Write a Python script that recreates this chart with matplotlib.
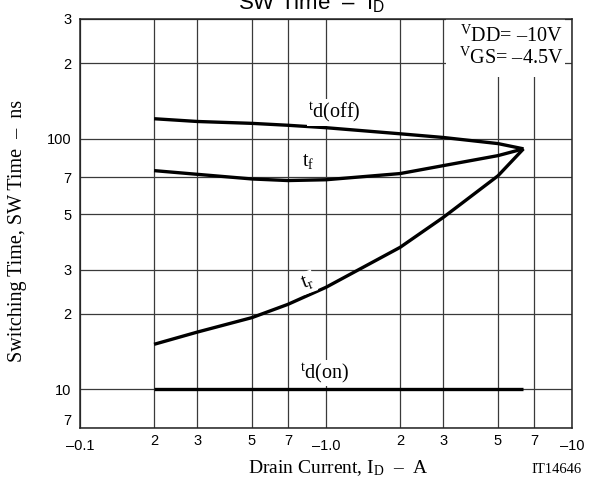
import numpy as np
import matplotlib.pyplot as plt
import matplotlib.transforms as mtransforms
from matplotlib.patches import Rectangle
from matplotlib.ticker import NullLocator

plt.rcParams['font.family'] = 'Liberation Serif'
plt.rcParams['mathtext.fontset'] = 'custom'
plt.rcParams['mathtext.rm'] = 'Liberation Serif'
plt.rcParams['mathtext.it'] = 'Liberation Serif:italic'
plt.rcParams['mathtext.sf'] = 'Liberation Sans'

# drain current |I_D| in A, switching times in ns
drain_current = [0.2, 0.3, 0.5, 0.7, 1.0, 2.0, 3.0, 5.0, 6.35]
td_off = [120, 117, 115, 113, 110.5, 104.5, 101, 95.5, 91]
t_f = [74.5, 72, 69, 68, 68.5, 72.5, 78, 85.5, 91]
t_r = [15.1, 16.9, 19.3, 21.8, 25.5, 36.8, 48.5, 71, 91]
td_on = [10, 10, 10, 10, 10, 10, 10, 10, 10]

x_ticks = [0.1, 0.2, 0.3, 0.5, 0.7, 1, 2, 3, 5, 7, 10]
x_ticklabels = ['\u20130.1', '2', '3', '5', '7', '\u20131.0', '2', '3', '5', '7', '\u201310']
y_ticks = [7, 10, 20, 30, 50, 70, 100, 200, 300]
y_ticklabels = ['7', '10', '2', '3', '5', '7', '100', '2', '3']

fig = plt.figure(figsize=(5.9, 4.79), dpi=100)
ax = fig.add_axes([80/590, 51/479, 492/590, 409/479])
ax.set_xscale('log')
ax.set_yscale('log')
ax.set_xlim(0.1, 10)
ax.set_ylim(7, 300)
ax.set_xticks(x_ticks)
ax.set_xticklabels(x_ticklabels, fontfamily='Liberation Sans', fontsize=10.5)
ax.set_yticks(y_ticks)
ax.set_yticklabels(y_ticklabels, fontfamily='Liberation Sans', fontsize=10.5)
ax.xaxis.set_minor_locator(NullLocator())
ax.yaxis.set_minor_locator(NullLocator())
ax.tick_params(axis='x', length=0, pad=4)
ax.tick_params(axis='y', length=0, pad=6)
ax.grid(True, color='#3a3a3a', lw=0.9)
for s in ax.spines.values():
    s.set_linewidth(1.1)
    s.set_color('#222222')

# the labels with a minus sign sit a little lower in the original
shift = mtransforms.ScaledTranslation(0, -4/72, fig.dpi_scale_trans)
for lab in ax.get_xticklabels():
    if lab.get_text().startswith('\u2013'):
        lab.set_transform(lab.get_transform() + shift)
ax.get_yticklabels()[0].set_va('bottom')

for curve in [td_off, t_f, t_r, td_on]:
    ax.plot(drain_current, curve, color='black', lw=2.4, solid_capstyle='butt')

box = dict(facecolor='white', edgecolor='none', pad=1)
ax.text(1.08, 127, r'$^{\mathrm{t}}$d(off)', ha='center', va='center', fontsize=14.5, bbox=box)
ax.text(0.845, 81, r't$_{\mathrm{f}}$', ha='center', va='center', fontsize=14.5, bbox=box)
ax.text(0.84, 26.7, r't$_{\mathrm{r}}$', ha='center', va='center', fontsize=14.5, rotation=20, bbox=box)
ax.text(0.99, 11.6, r'$^{\mathrm{t}}$d(on)', ha='center', va='center', fontsize=14.5, bbox=box)

# condition box in the upper right corner
ax.add_patch(Rectangle((0.744, 0.858), 0.242, 0.142, transform=ax.transAxes,
                       facecolor='white', edgecolor='none', zorder=2.1))
ax.text(0.982, 0.958, '$^{\\mathrm{V}}$DD= \u201310V',
        transform=ax.transAxes, ha='right', va='center', fontsize=14.5, zorder=3)
ax.text(0.982, 0.905, '$^{\\mathrm{V}}$GS= \u20134.5V',
        transform=ax.transAxes, ha='right', va='center', fontsize=14.5, zorder=3)

fig.text(312/590, 1 - 9/479, 'SW Time  \u2013  $\\mathsf{I_D}$', ha='center', va='baseline',
         fontfamily='Liberation Sans', fontsize=16)
fig.text(338/590, 6/479, 'Drain Current, $\\mathrm{I_D}$  \u2013  A', ha='center', va='baseline',
         fontsize=14)
fig.text(18/590, 1 - 231/479, 'Switching Time, SW Time  \u2013  ns', ha='center', va='center',
         rotation=90, fontsize=14.5)
fig.text(557/590, 6/479, 'IT14646', ha='center', va='baseline', fontsize=10.5)

fig.savefig('out.png', dpi=100)
